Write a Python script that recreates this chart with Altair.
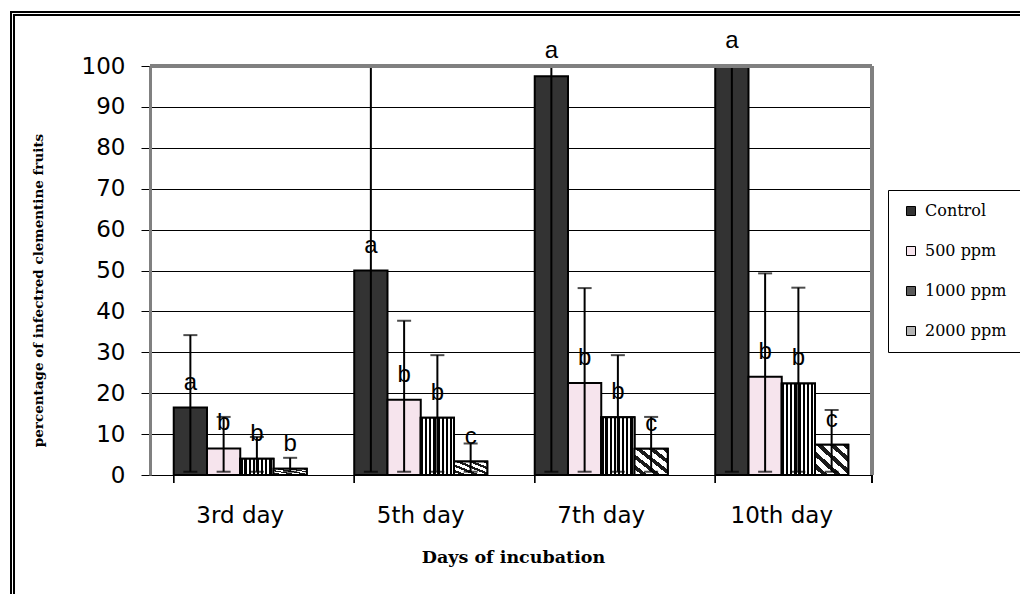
import altair as alt
import pandas as pd

# ---- data ----
days = ["3rd day", "5th day", "7th day", "10th day"]
treatments = ["Control", "500 ppm", "1000 ppm", "2000 ppm"]

control = [16.5, 50.0, 97.5, 100.0]
ppm500 = [6.5, 18.4, 22.5, 24.0]
ppm1000 = [4.0, 14.0, 14.1, 22.4]
ppm2000 = [1.5, 3.3, 6.4, 7.4]

control_up = [34.2, 100.0, 100.0, 100.0]
ppm500_up = [14.2, 37.7, 45.7, 49.3]
ppm1000_up = [9.3, 29.3, 29.3, 45.8]
ppm2000_up = [4.2, 7.7, 14.2, 15.9]

err_low = [0.8, 0.8, 0.8, 0.8]

control_let = ["a", "a", "a", "a"]
ppm500_let = ["b", "b", "b", "b"]
ppm1000_let = ["b", "b", "b", "b"]
ppm2000_let = ["b", "c", "c", "c"]

y_ticks = [0, 10, 20, 30, 40, 50, 60, 70, 80, 90, 100]

rows = []
for t, vals, ups, lets in [
    ("Control", control, control_up, control_let),
    ("500 ppm", ppm500, ppm500_up, ppm500_let),
    ("1000 ppm", ppm1000, ppm1000_up, ppm1000_let),
    ("2000 ppm", ppm2000, ppm2000_up, ppm2000_let),
]:
    for d, v, u, l, lo in zip(days, vals, ups, lets, err_low):
        rows.append({"day": d, "treatment": t, "value": v, "upper": u,
                     "lower": lo, "letter": l})
df = pd.DataFrame(rows)

W, H = 722, 409
SANS = "DejaVu Sans"
SERIF = "DejaVu Serif"


def stripes(c1, c2, n, frac, x1, y1, x2, y2):
    stops = []
    for i in range(n):
        a = i / n
        b = (i + frac) / n
        c = (i + 1) / n
        stops += [alt.GradientStop(offset=a, color=c1),
                  alt.GradientStop(offset=b, color=c1),
                  alt.GradientStop(offset=b, color=c2),
                  alt.GradientStop(offset=c, color=c2)]
    return alt.LinearGradient(gradient="linear", stops=stops,
                              x1=x1, y1=y1, x2=x2, y2=y2)


grad1000 = stripes("#000000", "#ffffff", 8, 0.55, 0, 0, 1, 0)
grad2000 = stripes("#ffffff", "#1a1a1a", 5, 0.55, 0, 1, 1, 0)

x_axis = alt.Axis(title="Days of incubation", ticks=False, domainColor="black",
                  domainWidth=1, labelFont=SANS, labelFontSize=23,
                  labelColor="black", labelPadding=29, labelAngle=0,
                  titleFont=SERIF, titleFontSize=17.5, titleFontWeight="bold",
                  titleColor="black", titleX=W / 2 + 2, titleY=82,
                  titleBaseline="middle", titleAlign="center", grid=False)

X = alt.X("day:N", sort=days, axis=x_axis,
          scale=alt.Scale(domain=days, paddingInner=0.263, paddingOuter=0.1315))
XO = alt.XOffset("treatment:N", sort=treatments,
                 scale=alt.Scale(domain=treatments, paddingInner=0, paddingOuter=0))


def Y(field):
    return alt.Y(f"{field}:Q",
                 scale=alt.Scale(domain=[0, 100], nice=False, clamp=True),
                 axis=alt.Axis(title="percentage of infectred clementine fruits",
                               values=y_ticks, grid=True, gridColor="black",
                               gridWidth=1, gridOpacity=1, domainColor="#808080",
                               domainWidth=3, tickColor="black", tickSize=9,
                               labelFont=SANS, labelFontSize=23, labelColor="black",
                               labelPadding=16, titleFont=SERIF, titleFontSize=13.5,
                               titleFontWeight="bold", titleColor="black",
                               titleX=-112, titleY=224, titleAngle=-90,
                               titleAlign="center", titleBaseline="middle"))


base = alt.Chart(df)

bars = base.mark_bar(stroke="black", strokeWidth=2).encode(
    x=X, xOffset=XO, y=Y("value"),
    color=alt.Color("treatment:N", sort=treatments,
                    scale=alt.Scale(domain=treatments,
                                    range=["#333333", "#f6e4ed", "#5a5a5a", "#b4b4b4"]),
                    legend=alt.Legend(title=None, orient="none", legendX=738,
                                      legendY=124, strokeColor="black",
                                      fillColor="white", padding=13,
                                      rowPadding=24, symbolType="square",
                                      symbolSize=81, symbolStrokeColor="black",
                                      symbolStrokeWidth=1, symbolOffset=2,
                                      labelFont=SERIF, labelFontSize=16,
                                      labelColor="black", labelOffset=6)),
)

bars1000 = base.mark_bar(fill=grad1000, stroke="black", strokeWidth=2).encode(
    x=X, xOffset=XO, y=Y("value")
).transform_filter(alt.datum.treatment == "1000 ppm")

bars2000 = base.mark_bar(fill=grad2000, stroke="black", strokeWidth=2).encode(
    x=X, xOffset=XO, y=Y("value")
).transform_filter(alt.datum.treatment == "2000 ppm")

err = base.mark_rule(color="black", strokeWidth=2).encode(
    x=X, xOffset=XO, y=Y("lower"), y2="upper")

cap_top = base.mark_tick(color="black", thickness=2, size=14,
                         orient="horizontal").encode(
    x=X, xOffset=XO, y=Y("upper")
).transform_filter(alt.datum.upper < 99.5)

cap_low = base.mark_tick(color="black", thickness=2, size=14,
                         orient="horizontal").encode(
    x=X, xOffset=XO, y=Y("lower"))

letters = base.mark_text(font="Liberation Sans", fontSize=24, dy=-25,
                         baseline="middle", align="center", color="black").encode(
    x=X, xOffset=XO, y=Y("value"), text="letter:N")

xticks = base.mark_rule(color="black", strokeWidth=1).encode(
    x=alt.X("day:N", sort=days, axis=x_axis, bandPosition=0,
            scale=alt.Scale(domain=days, paddingInner=0.263, paddingOuter=0.1315)),
    y=alt.value(H), y2=alt.value(H + 8))

xtick_end = base.mark_rule(color="black", strokeWidth=1).encode(
    x=alt.value(W), y=alt.value(H), y2=alt.value(H + 8))

top_border = base.mark_rule(color="#808080", strokeWidth=3).encode(
    x=alt.value(0), x2=alt.value(W), y=alt.value(0))
right_border = base.mark_rule(color="#808080", strokeWidth=3).encode(
    x=alt.value(W), y=alt.value(0), y2=alt.value(H))

frame_l1 = base.mark_rule(color="black", strokeWidth=2).encode(
    x=alt.value(-139), y=alt.value(-55), y2=alt.value(540))
frame_l2 = base.mark_rule(color="black", strokeWidth=1).encode(
    x=alt.value(-136), y=alt.value(-52), y2=alt.value(540))
frame_t1 = base.mark_rule(color="black", strokeWidth=2).encode(
    x=alt.value(-140), x2=alt.value(880), y=alt.value(-54))
frame_t2 = base.mark_rule(color="black", strokeWidth=1).encode(
    x=alt.value(-136.5), x2=alt.value(880), y=alt.value(-51))

chart = alt.layer(
    bars, bars1000, bars2000, err, cap_top, cap_low, letters,
    xticks, xtick_end, top_border, right_border,
    frame_l1, frame_l2, frame_t1, frame_t2,
).properties(
    width=W, height=H,
    autosize=alt.AutoSizeParams(type="none"),
    padding={"left": 142, "top": 58, "right": 148, "bottom": 119},
).configure_view(strokeWidth=0).configure(background="white")

chart.save("out.html", embed_options={"renderer": "svg", "actions": False})
